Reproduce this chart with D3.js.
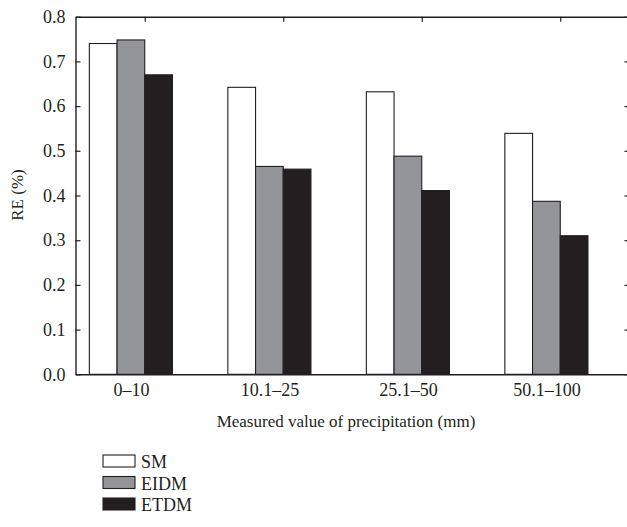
<!DOCTYPE html>
<html><head><meta charset="utf-8">
<script src="https://cdn.jsdelivr.net/npm/d3@7"></script>
<style>body{margin:0;background:#fff}svg{display:block}text{font-family:"Liberation Serif","Times New Roman",serif;fill:#231f20}</style>
</head><body><svg id="c" width="627" height="527"></svg>
<script>
const categories = ["0\u201310","10.1\u201325","25.1\u201350","50.1\u2013100"];
const seriesNames = ["SM","EIDM","ETDM"];
const SM   = [0.740, 0.642, 0.632, 0.539];
const EIDM = [0.748, 0.465, 0.488, 0.387];
const ETDM = [0.670, 0.459, 0.411, 0.310];
const yTicks = [0,0.1,0.2,0.3,0.4,0.5,0.6,0.7,0.8];
const colors = ["#ffffff","#939598","#231f20"];
const series = [SM, EIDM, ETDM];

const svg = d3.select("#c");
const L=75.5, R=629.5, T=16.7, B=374.3;
const x = d3.scaleLinear().domain([0.5,4.5]).range([L,R]);
const y = d3.scaleLinear().domain([0,0.8]).range([B,T]);
const w = 0.2;
const ink = "#231f20";
const fs = "18px";

series.forEach((vals,j)=>{
  svg.append("g").selectAll("rect").data(vals).join("rect")
    .attr("x",(d,i)=>x(i+1-0.4+w*j))
    .attr("width",(d,i)=>x(i+1-0.4+w*(j+1))-x(i+1-0.4+w*j))
    .attr("y",d=>y(d)).attr("height",d=>B-y(d))
    .attr("fill",colors[j]).attr("stroke",ink).attr("stroke-width",1.1);
});

const la = svg.append("g").attr("transform",`translate(${L},0)`)
  .call(d3.axisLeft(y).tickValues(yTicks).tickFormat(d3.format(".1f")).tickSizeInner(-5).tickSizeOuter(0).tickPadding(10));
la.selectAll("text").style("font-size",fs);
svg.append("g").attr("transform",`translate(${R},0)`)
  .call(d3.axisRight(y).tickValues(yTicks).tickFormat("").tickSizeInner(-5).tickSizeOuter(0));
svg.append("g").attr("transform",`translate(0,${T})`)
  .call(d3.axisTop(x).tickValues([1,2,3,4]).tickFormat("").tickSizeInner(-5).tickSizeOuter(0));
const bx = svg.append("g").attr("transform",`translate(0,${B})`)
  .call(d3.axisBottom(x).tickValues([0.9,1.9,2.9,3.9]).tickFormat((d,i)=>categories[i]).tickSize(0).tickPadding(9));
bx.selectAll("text").style("font-size",fs);
svg.selectAll(".domain").attr("stroke",ink).attr("stroke-width",1.4);
svg.selectAll(".tick line").attr("stroke",ink).attr("stroke-width",1.2);
svg.selectAll(".tick text").attr("fill",ink);

svg.append("text").attr("x",346).attr("y",427).attr("text-anchor","middle")
  .style("font-size","17px").text("Measured value of precipitation (mm)");
svg.append("text").attr("transform","translate(23,195) rotate(-90)").attr("text-anchor","middle")
  .style("font-size","17px").text("RE (%)");

const lg = svg.append("g");
seriesNames.forEach((n,j)=>{
  const base = 468 + j*21.5;
  lg.append("rect").attr("x",103).attr("y",base-13).attr("width",32).attr("height",12)
    .attr("fill",colors[j]).attr("stroke",ink).attr("stroke-width",1.1);
  lg.append("text").attr("x",141).attr("y",base).style("font-size",fs).text(n);
});
</script></body></html>
